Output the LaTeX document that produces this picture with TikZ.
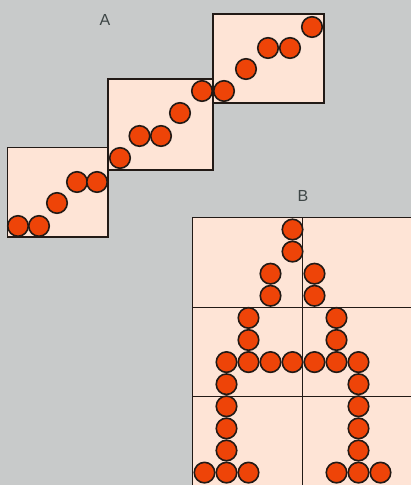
\documentclass[tikz,border=0pt]{standalone}
\usepackage{fontspec}
\setsansfont{Liberation Sans}
\usetikzlibrary{positioning}
\definecolor{bggrey}{RGB}{200,202,202}
\definecolor{paper}{RGB}{254,228,214}
\definecolor{beadred}{RGB}{238,68,8}
\definecolor{ink}{RGB}{34,26,22}
\definecolor{tagink}{RGB}{62,70,70}

\begin{document}
\begin{tikzpicture}[x=1pt, y=-1pt,
    frame/.style={draw=ink, fill=paper, line width=1.3pt},
    gridline/.style={draw=ink, line width=1.2pt},
    bead/.style={circle, draw=ink, fill=beadred, line width=1.6pt, minimum size=20.5pt, inner sep=0pt},
    tag/.style={font=\sffamily\fontsize{16}{18}\selectfont, text=tagink}]

    \fill [bggrey] (0,0) rectangle (411,485);
    \useasboundingbox (0,0) rectangle (411,485);
    \clip (0,0) rectangle (411,485);

    % A: three boxes, staircase of beads
    \draw [frame] (7.5,147.5) rectangle (108,237);
    \draw [frame] (108,79) rectangle (213,170);
    \draw [frame] (213,14) rectangle (324,103);
    \foreach \x/\y [count=\i] in {18/226, 39/226, 57/203, 77/182, 97/182,
        120/158, 139.5/136, 161/136, 180/113, 202/91,
        224/91, 246/69, 268/48, 290/48, 312/27}
        \node [bead] (a\i) at (\x,\y) {};
    \node [tag] (tagA) at (105,20) {A};

    % B: grid of six cells with letter of beads
    \draw [frame] (192.3,217.7) rectangle (412.3,486.3);
    \draw [gridline] (302.3,217.7) -- (302.3,486.3);
    \draw [gridline] (192.3,307.3) -- (412.3,307.3);
    \draw [gridline] (192.3,396.7) -- (412.3,396.7);
    \foreach \c/\r [count=\i] in {4/0, 4/1, 3/2, 3/3, 5/2, 5/3, 2/4, 2/5, 6/4, 6/5,
        1/6, 2/6, 3/6, 4/6, 5/6, 6/6, 7/6,
        1/7, 1/8, 1/9, 1/10, 0/11, 1/11, 2/11,
        7/7, 7/8, 7/9, 7/10, 6/11, 7/11, 8/11}
        \node [bead] (b\i) at ({204.5+22*\c},{229.5+22.1*\r}) {};
    \node [tag] (tagB) at (303,196) {B};
\end{tikzpicture}
\end{document}
